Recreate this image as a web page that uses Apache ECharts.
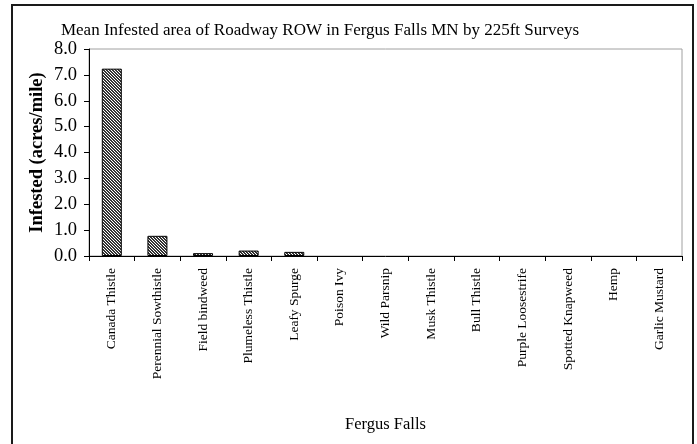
<!DOCTYPE html>
<html lang="en">
  <head>
    <meta charset="utf-8">
    <title>Fergus Falls</title>
    <style>
      html, body { margin: 0; padding: 0; background: #fff; }
      #chart { width: 697px; height: 444px; }
    </style>
  </head>
  <body>
    <div id="chart"></div>
    <script src="https://cdn.jsdelivr.net/npm/echarts@6/dist/echarts.min.js"></script>
    <script>
      // data
      var species = ['Canada Thistle', 'Perennial Sowthistle', 'Field bindweed', 'Plumeless Thistle',
                     'Leafy Spurge', 'Poison Ivy', 'Wild Parsnip', 'Musk Thistle', 'Bull Thistle',
                     'Purple Loosestrife', 'Spotted Knapweed', 'Hemp', 'Garlic Mustard'];
      var infested = [7.24, 0.78, 0.11, 0.21, 0.16, 0, 0, 0, 0, 0, 0, 0, 0];
      var yTicks = [0, 8, 1]; // min, max, step

      // fine dark hatch for the bars
      function hatch() {
          var c = document.createElement('canvas');
          c.width = 3; c.height = 3;
          var g = c.getContext('2d');
          g.fillStyle = '#fff';
          g.fillRect(0, 0, 3, 3);
          g.fillStyle = '#333';
          for (var i = 0; i < 3; i++) {
              g.fillRect(i, i, 1, 1);
              g.fillRect((i + 1) % 3, i, 1, 1);
          }
          return c;
      }

      var font = '"Liberation Serif", "Times New Roman", serif';
      var myChart = echarts.init(document.getElementById('chart'));
      myChart.setOption({
          animation: false,
          title: {
              text: 'Mean Infested area of Roadway ROW in Fergus Falls MN by 225ft Surveys',
              left: 315, top: 17, textAlign: 'center',
              textStyle: { fontFamily: font, fontSize: 17, fontWeight: 'normal', color: '#000' }
          },
          graphic: [{
              type: 'rect',
              shape: { x: 12, y: 5, width: 681, height: 470 },
              style: { fill: 'none', stroke: '#1a1a1a', lineWidth: 2 },
              silent: true
          }],
          grid: {
              left: 89, right: 15, top: 49, bottom: 188,
              show: true, borderColor: '#a0a0a0', borderWidth: 1, backgroundColor: 'transparent'
          },
          xAxis: {
              type: 'category',
              data: species,
              name: 'Fergus Falls',
              nameLocation: 'middle',
              nameGap: 160,
              nameMoveOverlap: false,
              nameTextStyle: { fontFamily: font, fontSize: 16.5, color: '#000' },
              axisLine: { lineStyle: { color: '#000', width: 1 } },
              axisTick: { show: true, length: 5, lineStyle: { color: '#000' } },
              axisLabel: { rotate: 90, interval: 0, margin: 12, fontFamily: font, fontSize: 13.5, color: '#000' }
          },
          yAxis: {
              type: 'value',
              min: yTicks[0], max: yTicks[1], interval: yTicks[2],
              name: 'Infested (acres/mile)',
              nameLocation: 'middle',
              nameRotate: 90,
              nameGap: 42,
              nameMoveOverlap: false,
              nameTextStyle: { fontFamily: font, fontSize: 18.5, fontWeight: 'bold', color: '#000' },
              splitLine: { show: false },
              axisLine: { show: true, lineStyle: { color: '#000', width: 1 } },
              axisTick: { show: true, length: 5, lineStyle: { color: '#000' } },
              axisLabel: {
                  margin: 12, fontFamily: font, fontSize: 18.5, color: '#000',
                  formatter: function (v) { return v.toFixed(1); }
              }
          },
          series: [{
              type: 'bar',
              barWidth: 20,
              data: infested.map(function (v) {
                  // zero bars draw nothing in the reference
                  return v === 0 ? { value: v, itemStyle: { borderWidth: 0 } } : v;
              }),
              itemStyle: {
                  color: { image: hatch(), repeat: 'repeat' },
                  borderColor: '#000',
                  borderWidth: 1
              }
          }]
      });
    </script>
  </body>
</html>
